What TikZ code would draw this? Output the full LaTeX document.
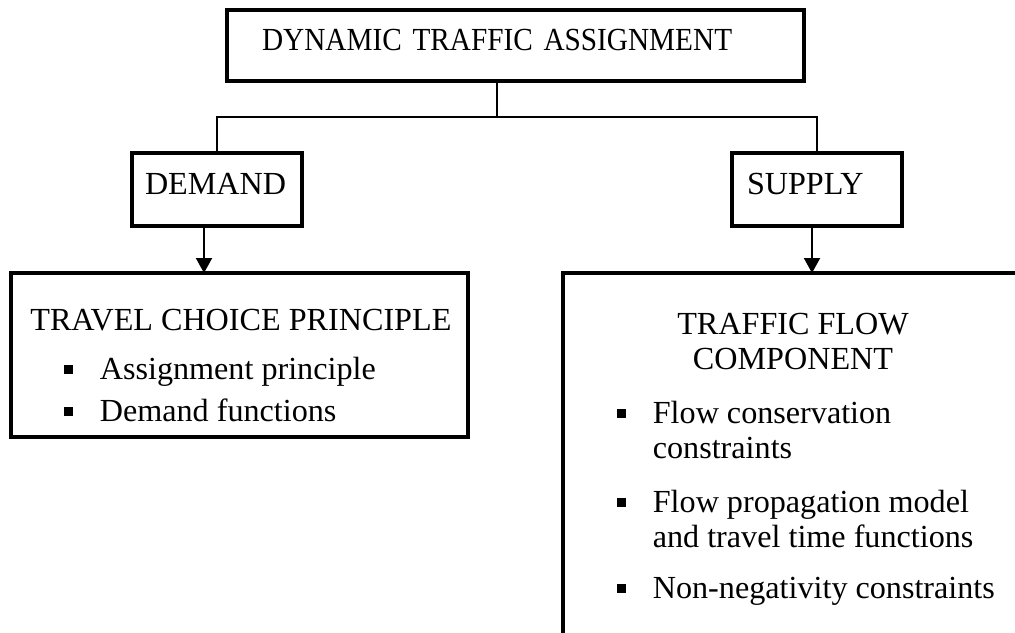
\documentclass[tikz,border=0pt]{standalone}
\usepackage{fontspec}
\setmainfont{Liberation Serif}
\newfontfamily\narrowfont[FakeStretch=0.91]{Liberation Serif}
\usepackage{tikz}
\usetikzlibrary{arrows.meta,positioning,calc}

\newcommand{\sqbul}{\rule[0.1cm]{0.18cm}{0.18cm}}
\newcommand{\sqitem}[1]{\sqbul\hspace{0.53cm}\begin{tabular}[t]{@{}l@{}}#1\end{tabular}}

\begin{document}
\begin{tikzpicture}[>={Triangle[width=0.32cm,length=0.3cm]},
  font=\fontsize{18.3}{20}\selectfont,
  frame/.style={draw,line width=1.8pt,rectangle,anchor=north west,
                inner ysep=0pt,outer sep=0pt,align=left,text depth=0.22cm},
  link/.style={line width=1.1pt}]
  \useasboundingbox (0,0) rectangle (20.3,-12.64);
  \clip (0,0) rectangle (20.3,-12.64);

  % upper boxes
  \node[frame,text width=10.14cm,inner xsep=0.7cm,minimum height=1.42cm]
    (dta) at (4.54,-0.20) {\narrowfont DYNAMIC TRAFFIC ASSIGNMENT};
  \node[frame,text width=2.88cm,inner xsep=0.26cm,minimum height=1.46cm]
    (dem) at (2.64,-3.06) {DEMAND};
  \node[frame,text width=2.80cm,inner xsep=0.30cm,minimum height=1.46cm]
    (sup) at (14.64,-3.06) {SUPPLY};

  % lower boxes
  \node[frame,minimum width=9.14cm,minimum height=3.28cm] (tcp) at (0.22,-5.46) {};
  \node[frame,minimum width=10cm,minimum height=8cm] (tfc) at (11.26,-5.46) {};

  \node[anchor=base west,inner sep=0pt] (tcptitle) at (0.60,-6.60) {TRAVEL CHOICE PRINCIPLE};
  \node[anchor=base west,inner sep=0pt] (asg) at (1.28,-7.58) {\sqitem{Assignment principle}};
  \node[anchor=base west,inner sep=0pt] (dfn) at (1.28,-8.42) {\sqitem{Demand functions}};

  \node[anchor=base,inner sep=0pt] (tfctitle) at (15.86,-6.68)
    {\begin{tabular}[t]{@{}c@{}}TRAFFIC FLOW\\COMPONENT\end{tabular}};
  \node[anchor=base west,inner sep=0pt] (fcc) at (12.34,-8.46) {\sqitem{Flow conservation\\constraints}};
  \node[anchor=base west,inner sep=0pt] (fpm) at (12.34,-10.24) {\sqitem{Flow propagation model\\and travel time functions}};
  \node[anchor=base west,inner sep=0pt] (nnc) at (12.34,-11.96) {\sqitem{Non-negativity constraints}};

  % connectors
  \coordinate (split) at (9.94,-2.34);
  \draw[link] (dta.south -| split) -- (split);
  \draw[link] (dem.north) |- (split) -| (sup.north);
  \draw[link,->] ([xshift=-0.26cm]dem.south) -- ([xshift=-0.26cm]dem.south |- tcp.north);
  \draw[link,->] ([xshift=-0.1cm]sup.south) -- ([xshift=-0.1cm]sup.south |- tfc.north);
\end{tikzpicture}
\end{document}
